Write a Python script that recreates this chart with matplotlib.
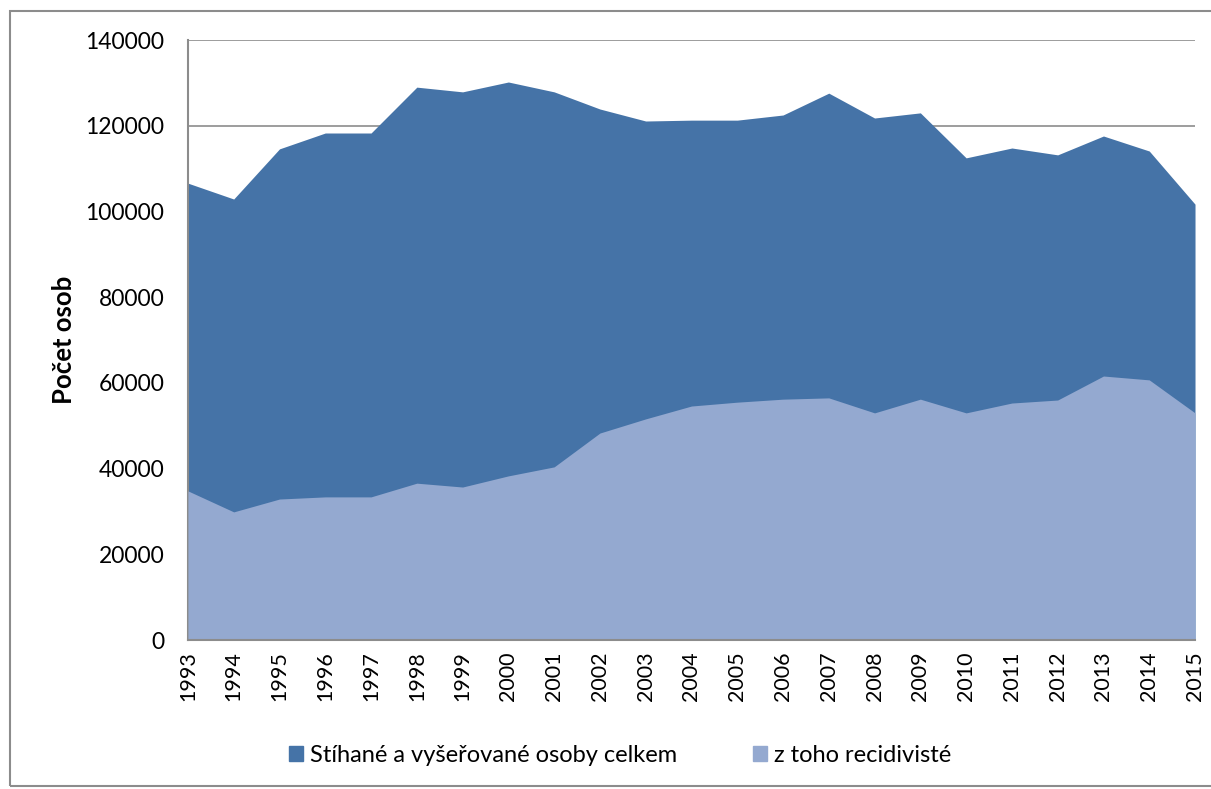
import matplotlib.pyplot as plt
from matplotlib.patches import Rectangle, Patch

years = list(range(1993, 2016))
celkem = [106600, 102900, 114600, 118300, 118300, 129000, 127900, 130200,
          127900, 123900, 121100, 121300, 121300, 122500, 127600, 121800,
          123000, 112500, 114800, 113200, 117600, 114100, 101700]
recidiviste = [34800, 29900, 32900, 33400, 33400, 36600, 35700, 38300,
               40400, 48300, 51600, 54600, 55500, 56200, 56500, 53000,
               56200, 53000, 55300, 56000, 61600, 60700, 53000]

DARK = "#4573A7"
LIGHT = "#94A9D0"

plt.rcParams['font.family'] = ['Lato', 'DejaVu Sans']

fig = plt.figure(figsize=(12.11, 7.89), dpi=100)
ax = fig.add_axes([0.1552, 0.1888, 0.8316, 0.7605])

ax.fill_between(years, 0, celkem, color=DARK, linewidth=0, zorder=2)
ax.fill_between(years, 0, recidiviste, color=LIGHT, linewidth=0, zorder=3)

ax.set_xlim(1993, 2015)
ax.set_ylim(0, 140000)
ax.set_yticks(range(0, 140001, 20000))
ax.set_xticks(years)
ax.set_xticklabels([str(y) for y in years], rotation=90, fontsize=15.5)
ax.tick_params(axis='y', labelsize=16.5, length=0, pad=17)
ax.tick_params(axis='x', length=0, pad=8)
ax.yaxis.grid(True, color="#8c8c8c", linewidth=1.2, zorder=1)
ax.set_axisbelow(True)

for side in ['top', 'right']:
    ax.spines[side].set_visible(False)
ax.spines['left'].set_color("#8c8c8c")
ax.spines['left'].set_linewidth(1.5)
ax.spines['bottom'].set_color("#8c8c8c")
ax.spines['bottom'].set_linewidth(1.5)
ax.spines['bottom'].set_zorder(4)

ax.set_ylabel("Počet osob", fontsize=18.5, fontweight='bold', labelpad=7)

handles = [Patch(color=DARK, label="Stíhané a vyšeřované osoby celkem"),
           Patch(color=LIGHT, label="z toho recidivisté")]
fig.legend(handles=handles, loc='center', bbox_to_anchor=(0.512, 0.043),
           ncol=2, frameon=False, fontsize=17, handlelength=0.6,
           handleheight=0.6, handletextpad=0.3, columnspacing=3.2)

fig.patches.append(Rectangle((0.008, 0.004), 1.2, 0.982, transform=fig.transFigure,
                             fill=False, edgecolor="#8c8c8c", linewidth=1.5))

fig.savefig("out.png", dpi=100)
